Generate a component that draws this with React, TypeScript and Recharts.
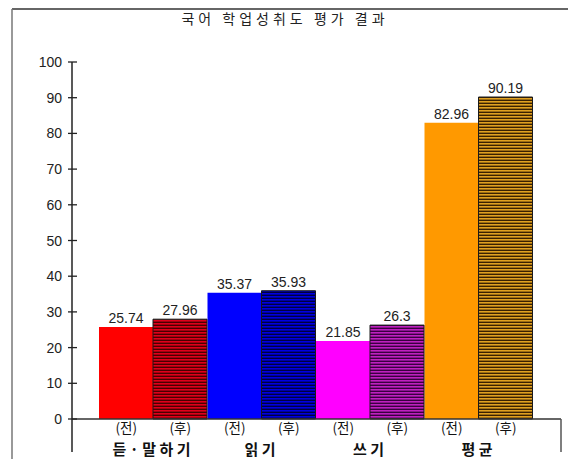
import { BarChart, Bar, XAxis, YAxis, Cell, LabelList } from "recharts";

const categories = ["듣·말하기", "읽기", "쓰기", "평균"];
const beforeScores = [25.74, 35.37, 21.85, 82.96];
const afterScores = [27.96, 35.93, 26.3, 90.19];
const yTicks = [0, 10, 20, 30, 40, 50, 60, 70, 80, 90, 100];
const beforeLabel = "(전)";
const afterLabel = "(후)";
const title = "국어 학업성취도 평가 결과";

const beforeColors = ["#ff0000", "#0000ff", "#ff00ff", "#ff9900"];
const stripeColors = [
  ["#e0001a", "#4a0000"],
  ["#0000e0", "#000040"],
  ["#c020c0", "#3a0040"],
  ["#e0a020", "#3a2000"],
];

const data = categories.map((name, i) => ({ name, before: beforeScores[i], after: afterScores[i] }));

const FONT = "'Liberation Sans', 'Noto Sans CJK KR', sans-serif";
const KFONT = "'Noto Sans CJK KR', sans-serif";

// the page body has an 8px margin, so everything here sits 8px left/up of page coords
const W = 560;
const H = 451;

function ValueTick({ x, y, payload }: any) {
  return (
    <g>
      <line x1={x + 6} x2={x + 15} y1={y} y2={y} stroke="#222" strokeWidth={1.3} />
      <text x={x} y={y} dy={5} textAnchor="end" fontSize={14} fill="#222" fontFamily={FONT}>
        {payload.value}
      </text>
    </g>
  );
}

function CategoryTick({ x, y, payload }: any) {
  return (
    <g fontFamily={KFONT} fill="#111">
      <text x={x - 27} y={y + 14} textAnchor="middle" fontSize={13.5}>{beforeLabel}</text>
      <text x={x + 27} y={y + 14} textAnchor="middle" fontSize={13.5}>{afterLabel}</text>
      <text x={x} y={y + 36} textAnchor="middle" fontSize={15} fontWeight="bold" letterSpacing={3.5}>
        {payload.value}
      </text>
    </g>
  );
}

export default function App() {
  return (
    <div style={{ position: "relative", width: W, height: H, background: "#fff" }}>
      <BarChart
        width={W}
        height={H}
        data={data}
        margin={{ top: 54, right: 7, bottom: 0, left: 0 }}
        barGap={0}
        barCategoryGap={0}
        style={{ fontFamily: FONT }}
      >
        <defs>
          {stripeColors.map(([c, d], i) => (
            <pattern key={i} id={`stripe-${i}`} width={6} height={3} patternUnits="userSpaceOnUse">
              <rect x={0} y={0} width={6} height={3} fill={c} />
              <rect x={0} y={1.6} width={6} height={1.4} fill={d} />
            </pattern>
          ))}
        </defs>
        <XAxis
          dataKey="name"
          height={40}
          padding={{ left: 27, right: 28 }}
          tickLine={false}
          tickSize={0}
          tickMargin={0}
          axisLine={{ stroke: "#333", strokeWidth: 1.5 }}
          tick={<CategoryTick />}
          interval={0}
        />
        <YAxis
          width={64}
          domain={[0, 100]}
          ticks={yTicks}
          tickSize={4}
          tickMargin={6}
          tickLine={false}
          axisLine={{ stroke: "#222", strokeWidth: 1.5 }}
          tick={<ValueTick />}
        />
        <Bar dataKey="before" isAnimationActive={false}>
          {data.map((_, i) => (
            <Cell key={i} fill={beforeColors[i]} />
          ))}
          <LabelList dataKey="before" position="top" offset={4} fontSize={14} fill="#222" fontFamily={FONT} />
        </Bar>
        <Bar dataKey="after" isAnimationActive={false}>
          {data.map((_, i) => (
            <Cell key={i} fill={`url(#stripe-${i})`} stroke="#1a1a1a" strokeWidth={1} />
          ))}
          <LabelList dataKey="after" position="top" offset={4} fontSize={14} fill="#222" fontFamily={FONT} />
        </Bar>
      </BarChart>
      <svg width={W} height={H} style={{ position: "absolute", left: 0, top: 0, pointerEvents: "none" }}>
        <line x1={4} x2={W} y1={1} y2={1} stroke="#333" strokeWidth={1.5} />
        <line x1={4} x2={4} y1={1} y2={H} stroke="#777" strokeWidth={1.5} />
        <line x1={64} x2={64} y1={411} y2={444} stroke="#222" strokeWidth={1.5} />
        <line x1={553} x2={553} y1={411} y2={444} stroke="#555" strokeWidth={1.5} />
        <text x={277} y={16} textAnchor="middle" fontSize={14} letterSpacing={4} fill="#222" fontFamily={KFONT}>
          {title}
        </text>
      </svg>
    </div>
  );
}
